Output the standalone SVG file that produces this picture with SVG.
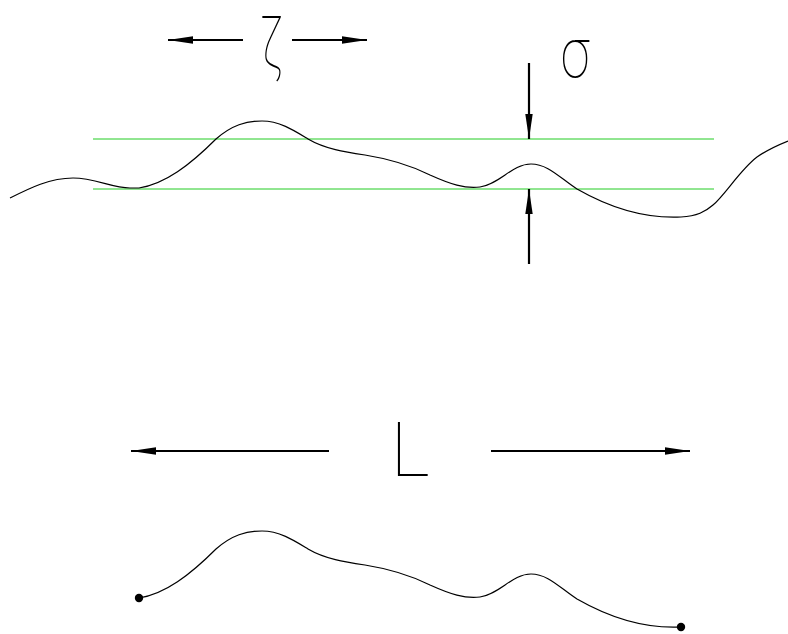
<svg xmlns="http://www.w3.org/2000/svg" width="788" height="634" viewBox="0 0 788 634">
<style>
.curve{fill:none;stroke:#000;stroke-width:1.2}
.guide{fill:none;stroke:#22cc22;stroke-width:1}
.arr{fill:none;stroke:#000;stroke-width:2.2;marker-end:url(#head)}
.sym{font-family:Roboto,"DejaVu Sans",sans-serif;font-weight:100;fill:#000}
</style>
<defs>
<marker id="head" viewBox="0 -4 25 8" refX="25" refY="0" markerWidth="25" markerHeight="8" markerUnits="userSpaceOnUse" orient="auto">
<path d="M0,-3.7 L25,0 L0,3.7 Z" fill="#000"/>
</marker>
</defs>
<rect width="788" height="634" fill="#fff"/>
<g id="guides">
<line class="guide" x1="93" y1="139" x2="714" y2="139"/>
<line class="guide" x1="93" y1="189" x2="714" y2="189"/>
</g>
<g id="profile">
<path class="curve" d="M10,198 C30,188 50,178 73,178 C95,178 112,188 130,188 C133,188 136,188 139,188 C165,184 190,165 216,139 C232,125 246,121 262,121 C280,121 295,131 308,139 C325,149 345,152 365,155 C390,159 410,165 430,175 C450,184 465,189 480,187 C500,184 512,164 531,164 C548,164 560,178 577,189 C605,205 640,219 681,217 C697,216 705,212 713,205 C725,195 740,170 757,157 C767,150 778,145 788,141"/>
</g>
<g id="segment">
<path class="curve" transform="translate(0,410)" d="M139,188 C165,184 190,165 216,139 C232,125 246,121 262,121 C280,121 295,131 308,139 C325,149 345,152 365,155 C390,159 410,165 430,175 C450,184 465,189 480,187 C500,184 512,164 531,164 C548,164 560,178 577,189 C605,205 640,219 681,217"/>
<circle cx="139" cy="598" r="4.2" fill="#000"/>
<circle cx="681" cy="627" r="4.2" fill="#000"/>
</g>
<g id="connectors">
<line class="arr" x1="243" y1="40" x2="168" y2="40"/>
<line class="arr" x1="292" y1="40" x2="367" y2="40"/>
<line class="arr" x1="529" y1="63" x2="529" y2="139"/>
<line class="arr" x1="529" y1="264" x2="529" y2="189"/>
<line class="arr" x1="329" y1="451" x2="131" y2="451"/>
<line class="arr" x1="491" y1="451" x2="690" y2="451"/>
</g>
<g id="label-zeta">
<text class="sym" transform="translate(272,68) scale(0.62,1)" font-size="72" text-anchor="middle">ζ</text>
</g>
<g id="label-sigma">
<text class="sym" transform="translate(575,77) scale(0.75,1)" font-size="70" text-anchor="middle">σ</text>
</g>
<g id="label-L">
<text class="sym" x="410" y="476" font-size="76" text-anchor="middle">L</text>
</g>
</svg>
